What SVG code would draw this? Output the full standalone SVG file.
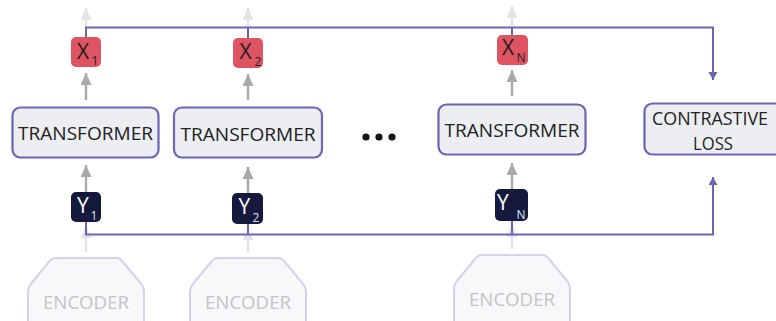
<svg xmlns="http://www.w3.org/2000/svg" width="776" height="321" viewBox="0 0 776 321">
  <defs>
    <marker id="headGray" markerUnits="userSpaceOnUse" markerWidth="12" markerHeight="13" refX="12" refY="5.5" orient="auto">
      <path d="M0,0 L12,5.5 L0,11 Z" fill="#a9a9ab"/>
    </marker>
    <marker id="headFaint" markerUnits="userSpaceOnUse" markerWidth="12" markerHeight="13" refX="12" refY="5.5" orient="auto">
      <path d="M0,0 L12,5.5 L0,11 Z" fill="#e3e3e5"/>
    </marker>
    <marker id="headPurple" markerUnits="userSpaceOnUse" markerWidth="9" markerHeight="10" refX="8" refY="4.5" orient="auto">
      <path d="M0,0 L8,4.5 L0,9 Z" fill="#6a66b3"/>
    </marker>
    <style>
      .lbl { font-family: "Open Sans", "Liberation Sans", sans-serif; fill: #222222; }
      .box { fill: #eceef2; stroke: #6a66b3; stroke-width: 2.2; }
      .enc { fill: #f8f8fa; stroke: #d3d3ec; stroke-width: 2; stroke-linejoin: round; }
      .encTxt { font-family: "Open Sans", "Liberation Sans", sans-serif; font-size: 18px; fill: #c4c4c6; text-anchor: middle; }
      .xbox { fill: #df5463; }
      .ybox { fill: #151a3c; }
      .sym { font-family: "Open Sans", "Liberation Sans", sans-serif; font-size: 21px; }
      .sub { font-family: "Open Sans", "Liberation Sans", sans-serif; font-size: 12px; }
      .gray { stroke: #a9a9ab; stroke-width: 2.4; fill: none; marker-end: url(#headGray); }
      .faint { stroke: #e3e3e5; stroke-width: 2.4; fill: none; marker-end: url(#headFaint); }
      .link { stroke: #6a66b3; stroke-width: 2; fill: none; }
    </style>
  </defs>

  <rect width="776" height="321" fill="#ffffff"/>

  <!-- connectors -->
  <g id="connectors">
    <!-- faint outputs above the X tokens -->
    <line class="faint" x1="86" y1="28" x2="86" y2="8"/>
    <line class="faint" x1="248" y1="28" x2="248" y2="8"/>
    <line class="faint" x1="512" y1="26" x2="512" y2="6"/>
    <!-- faint encoder outputs -->
    <line class="faint" x1="86" y1="252" x2="86" y2="226"/>
    <line class="faint" x1="248" y1="252" x2="248" y2="228"/>
    <line class="faint" x1="512" y1="249" x2="512" y2="225"/>
    <!-- Y into transformers -->
    <line class="gray" x1="86" y1="192" x2="86" y2="165"/>
    <line class="gray" x1="248" y1="193" x2="248" y2="167"/>
    <line class="gray" x1="512" y1="189" x2="512" y2="163"/>
    <!-- transformers into X -->
    <line class="gray" x1="86" y1="100" x2="86" y2="73"/>
    <line class="gray" x1="248" y1="100" x2="248" y2="74"/>
    <line class="gray" x1="512" y1="96" x2="512" y2="70"/>
    <!-- X tokens to contrastive loss -->
    <path class="link" d="M86,37 V27.5 H713 V80" marker-end="url(#headPurple)"/>
    <line class="link" x1="248" y1="27.5" x2="248" y2="38"/>
    <line class="link" x1="512" y1="27.5" x2="512" y2="35"/>
    <!-- Y tokens to contrastive loss -->
    <path class="link" d="M86,222 V234.5 H713 V177" marker-end="url(#headPurple)"/>
    <line class="link" x1="248" y1="224" x2="248" y2="234.5"/>
    <line class="link" x1="512" y1="221" x2="512" y2="234.5"/>
  </g>

  <!-- encoders -->
  <g id="encoder1">
    <path class="enc" d="M56,258 H116 Q120,258 123,262 L142,285 Q144,288 144,292 V330 H28 V292 Q28,288 30,285 L49,262 Q52,258 56,258 Z"/>
    <text class="encTxt" x="86" y="309" textLength="86" lengthAdjust="spacingAndGlyphs">ENCODER</text>
  </g>
  <g id="encoder2">
    <path class="enc" d="M218,258 H278 Q282,258 285,262 L304,285 Q306,288 306,292 V330 H190 V292 Q190,288 192,285 L211,262 Q214,258 218,258 Z"/>
    <text class="encTxt" x="248" y="309" textLength="86" lengthAdjust="spacingAndGlyphs">ENCODER</text>
  </g>
  <g id="encoderN">
    <path class="enc" d="M482,255 H542 Q546,255 549,259 L568,282 Q570,285 570,289 V330 H454 V289 Q454,285 456,282 L475,259 Q478,255 482,255 Z"/>
    <text class="encTxt" x="512" y="306" textLength="86" lengthAdjust="spacingAndGlyphs">ENCODER</text>
  </g>

  <!-- Y tokens -->
  <g id="y1">
    <rect class="ybox" x="71" y="192" width="30" height="30" rx="5"/>
    <text class="sym" x="77" y="212.5" fill="#ffffff">Y</text>
    <text class="sub" x="90.5" y="220" fill="#dfe3ff">1</text>
  </g>
  <g id="y2">
    <rect class="ybox" x="232" y="193" width="31" height="31" rx="5"/>
    <text class="sym" x="238.5" y="214" fill="#ffffff" font-size="22">Y</text>
    <text class="sub" x="252.5" y="222" fill="#dfe3ff">2</text>
  </g>
  <g id="yN">
    <rect class="ybox" x="495" y="189" width="33" height="32" rx="5"/>
    <text class="sym" x="497" y="210" fill="#ffffff" font-size="22">Y</text>
    <text class="sub" x="516.5" y="219" fill="#dfe3ff">N</text>
  </g>

  <!-- transformers -->
  <g id="transformer1">
    <rect class="box" x="12.5" y="107.5" width="146" height="50" rx="8"/>
    <text class="lbl" x="85.5" y="140" font-size="19" text-anchor="middle" textLength="135" lengthAdjust="spacingAndGlyphs">TRANSFORMER</text>
  </g>
  <g id="transformer2">
    <rect class="box" x="174" y="107.5" width="148" height="50" rx="8"/>
    <text class="lbl" x="248" y="141" font-size="19" text-anchor="middle" textLength="135" lengthAdjust="spacingAndGlyphs">TRANSFORMER</text>
  </g>
  <g id="transformerN">
    <rect class="box" x="438.5" y="104.5" width="147" height="50" rx="8"/>
    <text class="lbl" x="512" y="137" font-size="19" text-anchor="middle" textLength="135" lengthAdjust="spacingAndGlyphs">TRANSFORMER</text>
  </g>

  <!-- ellipsis between transformers -->
  <g id="ellipsis" fill="#151515">
    <circle cx="366" cy="137" r="3.6"/>
    <circle cx="379" cy="137" r="3.6"/>
    <circle cx="392" cy="137" r="3.6"/>
  </g>

  <!-- X tokens -->
  <g id="x1">
    <rect class="xbox" x="71" y="37" width="30" height="30" rx="5"/>
    <text class="sym" x="77" y="58.5" fill="#1e1e1e">X</text>
    <text class="sub" x="91.5" y="65" fill="#1e1e1e">1</text>
  </g>
  <g id="x2">
    <rect class="xbox" x="233" y="38" width="30" height="30" rx="5"/>
    <text class="sym" x="239.5" y="59" fill="#1e1e1e">X</text>
    <text class="sub" x="254.5" y="66" fill="#1e1e1e">2</text>
  </g>
  <g id="xN">
    <rect class="xbox" x="497" y="35" width="31" height="30" rx="5"/>
    <text class="sym" x="502" y="54.5" fill="#1e1e1e">X</text>
    <text class="sub" x="516.5" y="62" fill="#1e1e1e">N</text>
  </g>

  <!-- contrastive loss -->
  <g id="contrastiveLoss">
    <rect class="box" x="644.5" y="103.5" width="145" height="51" rx="8"/>
    <text class="lbl" x="710" y="125" font-size="18" text-anchor="middle" textLength="116" lengthAdjust="spacingAndGlyphs">CONTRASTIVE</text>
    <text class="lbl" x="713" y="150" font-size="18" text-anchor="middle" textLength="40" lengthAdjust="spacingAndGlyphs">LOSS</text>
  </g>
</svg>
